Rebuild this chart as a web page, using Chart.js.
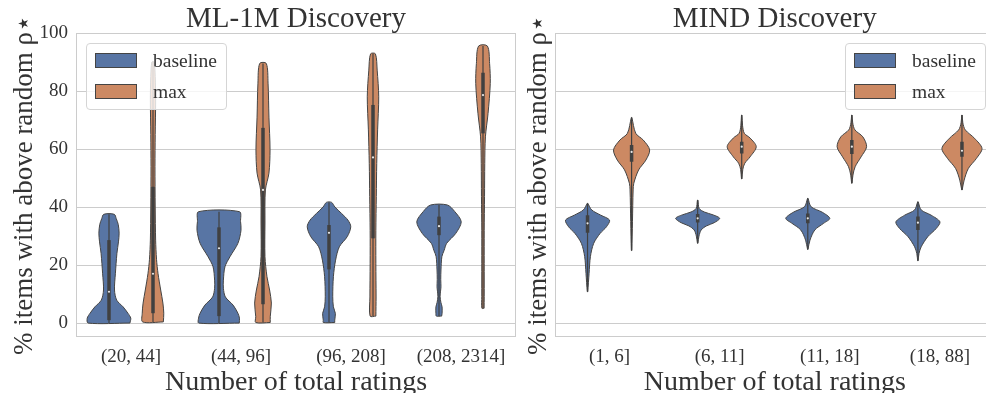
<!DOCTYPE html>
<html><head><meta charset="utf-8">
<script src="https://cdn.jsdelivr.net/npm/chart.js@4.4.1/dist/chart.umd.min.js"></script>
<style>
html,body{margin:0;padding:0;background:#fff;overflow:hidden;}
#wrap{position:relative;width:986px;height:393px;overflow:hidden;background:#fff;}
#c1{position:absolute;left:0;top:0;}
#c2{position:absolute;left:519px;top:0;}
.legend{position:absolute;width:139px;height:65px;border:1px solid #d5d5d5;border-radius:4px;background:rgba(255,255,255,0.8);font-family:"Liberation Serif",serif;font-size:19.5px;color:#333;}
.patch{position:absolute;left:8px;width:40px;height:13px;border:1px solid #444;}
.lab{position:absolute;left:66px;height:16px;line-height:16px;white-space:nowrap;}
</style>
</head><body>
<div id="wrap">
<canvas id="c1" width="520" height="393"></canvas>
<canvas id="c2" width="480" height="393"></canvas>
<div class="legend" id="leg1" style="left:86px;top:43px;"></div>
<div class="legend" id="leg2" style="left:845px;top:43px;"></div>
</div>
<script>
// ---------------- data ----------------
const mlCategories = ['(20, 44]', '(44, 96]', '(96, 208]', '(208, 2314]'];
const mindCategories = ['(1, 6]', '(6, 11]', '(11, 18]', '(18, 88]'];
const yTicks = [0, 20, 40, 60, 80, 100];
const seriesNames = ['baseline', 'max'];

// violin profiles: [value, relative density width]
const mlBaseline = [
  [[0,0.95],[1.7,0.99],[3.4,0.86],[5.6,0.64],[7.9,0.35],[11.4,0.25],[17,0.29],[24,0.36],[28,0.43],[31,0.46],[34,0.42],[36,0.33],[37.5,0.24]],
  [[0,0.92],[1.7,0.93],[3.4,0.86],[6.2,0.64],[9,0.29],[12,0.2],[14.8,0.2],[19.4,0.27],[22.9,0.5],[27.5,0.86],[32,1.0],[35,0.98],[38.4,0.93]],
  [[0.2,0.26],[1,0.26],[3.3,0.29],[5.6,0.2],[9.1,0.17],[16,0.2],[21.7,0.3],[26.3,0.47],[29.8,0.83],[33.2,0.99],[35.5,0.86],[37.8,0.57],[40,0.27],[41.6,0.12]],
  [[2.4,0.12],[3.3,0.14],[5.6,0.14],[7,0.09],[9.1,0.05],[11,0.07],[12.5,0.09],[15,0.08],[18.3,0.09],[22.9,0.13],[25,0.23],[27.5,0.35],[30.9,0.76],[34.9,1.01],[38.4,0.72],[40.7,0.38]]
];
const mlMax = [
  [[0.4,0.47],[3.4,0.49],[6.9,0.45],[11.4,0.35],[17,0.23],[22,0.16],[28.6,0.12],[40,0.1],[54,0.09],[65,0.1],[77,0.12],[85,0.1],[90,0.05]],
  [[0.2,0.33],[2.2,0.33],[6.9,0.38],[11.4,0.3],[16,0.18],[22.9,0.09],[34.5,0.09],[45.9,0.11],[51.7,0.27],[59.7,0.32],[71,0.27],[82.7,0.23],[89.5,0.15]],
  [[2.4,0.13],[9,0.14],[20.6,0.13],[32,0.13],[43.6,0.15],[55,0.17],[66.6,0.21],[78,0.26],[87.2,0.19],[92.8,0.11]],
  [[5.1,0.05],[9.1,0.055],[20.6,0.055],[32,0.055],[43.6,0.07],[55,0.08],[64.2,0.11],[72.3,0.23],[82.6,0.33],[89.5,0.3],[95.5,0.2]]
];
const mindBaseline = [
  [[10.8,0.01],[17.1,0.07],[22.9,0.13],[27.5,0.28],[30.9,0.57],[33.2,0.86],[35.5,1.0],[37.2,0.6],[39,0.19],[41.3,0.01]],
  [[27.5,0.01],[30,0.06],[32.1,0.16],[33.5,0.4],[34.6,0.75],[36.1,1.0],[37.3,0.7],[38.3,0.3],[39.5,0.07],[42.4,0.01]],
  [[25.4,0.01],[28.6,0.1],[32.1,0.32],[34.4,0.72],[36.1,1.0],[38.2,0.66],[40.1,0.15],[43,0.01]],
  [[21.5,0.01],[24,0.05],[26.3,0.15],[29.8,0.45],[32.6,0.83],[34.9,1.0],[37.2,0.6],[39,0.15],[41.8,0.01]]
];
const mindMax = [
  [[25,0.01],[35,0.04],[45.9,0.07],[48.2,0.1],[52.8,0.32],[56.2,0.65],[59.7,0.82],[63.1,0.53],[65.4,0.19],[70.9,0.01]],
  [[49.7,0.01],[53,0.05],[55.1,0.14],[57.3,0.38],[60.8,0.66],[63.8,0.38],[65.4,0.12],[68,0.04],[71.7,0.01]],
  [[48.2,0.01],[51,0.05],[53.9,0.15],[57.3,0.42],[60.8,0.67],[64.2,0.5],[66.6,0.14],[69,0.04],[71.7,0.01]],
  [[45.9,0.01],[49.3,0.1],[53.3,0.29],[56.8,0.66],[60.2,0.91],[63.7,0.57],[66.6,0.15],[69,0.04],[71.7,0.01]]
];
// inner box stats: [whisker low, q1, median, q3, whisker high]
const mlBaselineBox = [[0,1,10.8,28.6,37.5],[0,2.4,25.8,33,38.4],[0.2,18.5,31.1,33.8,41.6],[2.4,30.3,33.4,36.7,40.7]];
const mlMaxBox = [[0.4,3.4,17,47,90],[0.2,6.5,45.9,67.3,89.5],[2.4,29.2,57.1,75.2,92.8],[5.1,65.4,78.6,86.3,95.5]];
const mindBaselineBox = [[10.8,31.1,34.4,37.2,41.3],[27.5,34.7,36.1,37.6,42.4],[25.4,34.4,36.1,37.8,43],[21.5,32.1,34.6,36.7,41.8]];
const mindMaxBox = [[25,55.6,59,61.4,70.9],[49.7,58.5,60.8,62.5,71.7],[48.2,58.3,60.8,63.1,71.7],[45.9,57.3,59.4,62.5,71.7]];

// ---------------- style ----------------
const FONT = '"Liberation Serif", "Times New Roman", serif';
const TEXT = '#333333';
const GRID = '#cccccc';
const EDGE = '#444444';
const BOXC = '#404040';
const COLORS = ['#5875a4', '#cc8963'];
const HUE_OFF = 0.2;   // hue dodge in category units
const HALF = 0.2;      // max half-width in category units

function violinSets(profiles, boxes, dodge, color) {
  const out = [];
  profiles.forEach((prof, i) => {
    const c = i + dodge;
    const right = prof.map(([v, d]) => ({x: c + d * HALF, y: v}));
    const left = prof.slice().reverse().map(([v, d]) => ({x: c - d * HALF, y: v}));
    const pts = right.concat(left, [right[0]]);
    out.push({data: pts, fill: 'shape', backgroundColor: color, borderColor: EDGE, borderWidth: 1,
      pointRadius: 0, tension: 0.3, order: 4});
    const [lo, q1, med, q3, hi] = boxes[i];
    out.push({data: [{x: c, y: lo}, {x: c, y: hi}], borderColor: BOXC, borderWidth: 1.2,
      pointRadius: 0, fill: false, order: 3});
    out.push({data: [{x: c, y: q1}, {x: c, y: q3}], borderColor: BOXC, borderWidth: 3.5,
      borderCapStyle: 'butt', pointRadius: 0, fill: false, order: 2});
    out.push({data: [{x: c, y: med}], showLine: false, pointRadius: 1.1, pointBackgroundColor: '#e8e8e8',
      pointBorderWidth: 0, fill: false, order: 1});
  });
  return out;
}

const frame = {
  id: 'frame',
  beforeDatasetsDraw(chart) {
    const a = chart.chartArea, ctx = chart.ctx;
    ctx.save();
    ctx.strokeStyle = GRID; ctx.lineWidth = 1;
    ctx.strokeRect(Math.round(a.left) + 0.5, Math.round(a.top) + 0.5, Math.round(a.right - a.left) - 1, Math.round(a.bottom - a.top) - 1);
    ctx.restore();
  }
};

function makeChart(canvasId, title, cats, baseProf, baseBox, maxProf, maxBox, opts) {
  const datasets = violinSets(baseProf, baseBox, -HUE_OFF, COLORS[0])
    .concat(violinSets(maxProf, maxBox, HUE_OFF, COLORS[1]));
  return new Chart(document.getElementById(canvasId), {
    type: 'line',
    data: {datasets},
    plugins: [frame],
    options: {
      responsive: false, animation: false, events: [],
      layout: {padding: {left: 0, right: opts.padRight, top: 0, bottom: 0}},
      plugins: {
        legend: {display: false}, tooltip: {enabled: false},
        title: {display: true, text: title, fullSize: false, color: TEXT,
          font: {family: FONT, size: 29, weight: 'normal', lineHeight: 0.9},
          padding: {top: 6.5, bottom: 0.4}}
      },
      scales: {
        x: {
          type: 'linear', min: -0.5, max: 3.5,
          afterBuildTicks: s => { s.ticks = cats.map((_, i) => ({value: i})); },
          afterFit: s => { s.height = 56; },
          ticks: {callback: (v, i) => cats[i], padding: 9, color: TEXT, maxRotation: 0, autoSkip: false,
            font: {family: FONT, size: 19, lineHeight: 1.2}},
          grid: {display: false, drawTicks: false},
          border: {display: false},
          title: {display: true, text: 'Number of total ratings', color: TEXT,
            font: {family: FONT, size: 28, lineHeight: 0.7}, padding: {top: 0, bottom: 0.6}}
        },
        y: {
          type: 'linear', min: -4.8, max: 100,
          afterBuildTicks: s => { s.ticks = yTicks.map(v => ({value: v})); },
          afterFit: s => { s.width = opts.yWidth; },
          ticks: {display: opts.showTicks, padding: 8, color: TEXT, font: {family: FONT, size: 19}},
          grid: {color: GRID, lineWidth: 1, drawTicks: false},
          border: {display: false},
          title: {display: true, text: '% items with above random ρ⋆', color: TEXT,
            font: {family: FONT, size: 27, lineHeight: 1}, padding: {top: opts.titlePad, bottom: 0}}
        }
      }
    }
  });
}

makeChart('c1', 'ML-1M Discovery', mlCategories, mlBaseline, mlBaselineBox, mlMax, mlMaxBox,
  {padRight: 2.6, yWidth: 76, showTicks: true, titlePad: 11.7});
makeChart('c2', 'MIND Discovery', mindCategories, mindBaseline, mindBaselineBox, mindMax, mindMaxBox,
  {padRight: 3.5, yWidth: 35.5, showTicks: false, titlePad: 6.1});

function buildLegend(id) {
  const el = document.getElementById(id);
  seriesNames.forEach((name, i) => {
    const p = document.createElement('div');
    p.className = 'patch';
    p.style.top = (9 + i * 31) + 'px';
    p.style.background = COLORS[i];
    el.appendChild(p);
    const t = document.createElement('div');
    t.className = 'lab';
    t.style.top = (9 + i * 31) + 'px';
    t.textContent = name;
    el.appendChild(t);
  });
}
buildLegend('leg1');
buildLegend('leg2');
</script>
</body></html>
